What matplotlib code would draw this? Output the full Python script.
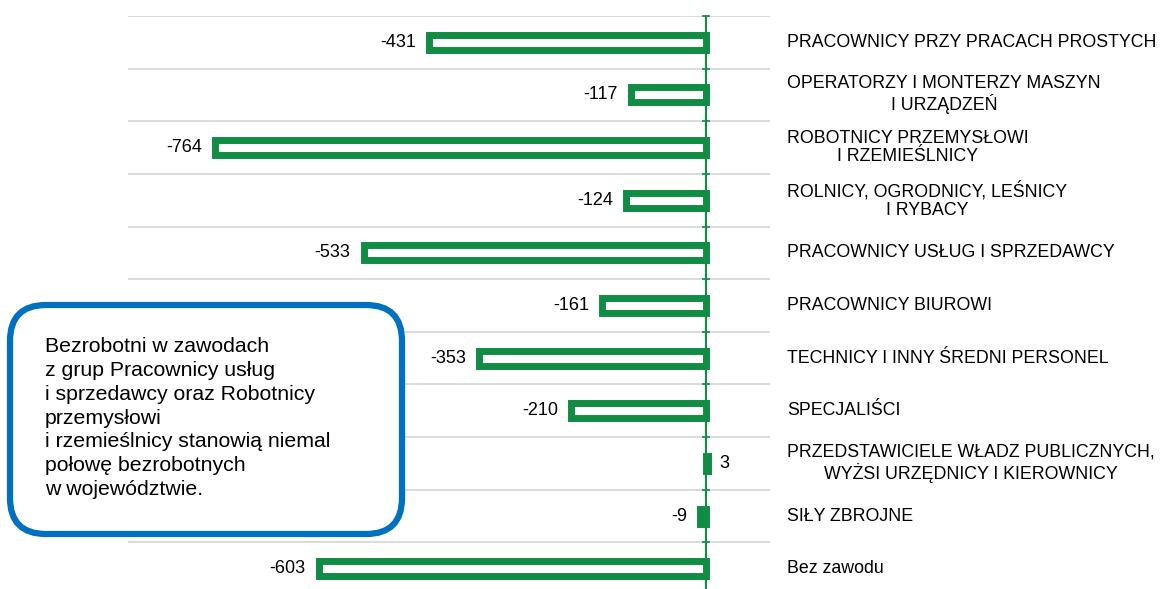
import matplotlib
matplotlib.use("Agg")
import matplotlib.pyplot as plt
import matplotlib.transforms as mtransforms
from matplotlib.patches import FancyBboxPatch

plt.rcParams['font.family'] = ['Liberation Sans', 'DejaVu Sans']

categories = [
    "PRACOWNICY PRZY PRACACH PROSTYCH",
    "OPERATORZY I MONTERZY MASZYN\nI URZĄDZEŃ",
    "ROBOTNICY PRZEMYSŁOWI\nI RZEMIEŚLNICY",
    "ROLNICY, OGRODNICY, LEŚNICY\nI RYBACY",
    "PRACOWNICY USŁUG I SPRZEDAWCY",
    "PRACOWNICY BIUROWI",
    "TECHNICY I INNY ŚREDNI PERSONEL",
    "SPECJALIŚCI",
    "PRZEDSTAWICIELE WŁADZ PUBLICZNYCH,\nWYŻSI URZĘDNICY I KIEROWNICY",
    "SIŁY ZBROJNE",
    "Bez zawodu",
]
values = [-431, -117, -764, -124, -533, -161, -353, -210, 3, -9, -603]

note = ("Bezrobotni w zawodach\nz grup Pracownicy usług\ni sprzedawcy oraz Robotnicy\n"
        "przemysłowi\ni rzemieślnicy stanowią niemal\npołowę bezrobotnych\nw województwie.")

GREEN = '#118C44'
BLUE = '#0070C0'

W, H = 1161, 589
DPI = 100
fig = plt.figure(figsize=(W / DPI, H / DPI), dpi=DPI)
ax_left, ax_right = 128 / W, 770 / W
ax_top, ax_bottom = 1 - 16 / H, 1 - 595 / H
ax = fig.add_axes([ax_left, ax_bottom, ax_right - ax_left, ax_top - ax_bottom])

n = len(categories)
ypos = list(range(n))
ax.barh(ypos, values, height=0.285, color='white', edgecolor=GREEN,
        linewidth=5.0, joinstyle='miter', zorder=3)

ax.set_xlim(-900, 100)
ax.set_ylim(n - 0.5, -0.5)

boundaries = [i - 0.5 for i in range(n + 1)]
ax.set_yticks(boundaries)
ax.set_yticklabels([])
ax.set_xticks([])
ax.grid(axis='y', color='#D9D9D9', linewidth=1.3, zorder=0)

for s in ['top', 'right', 'bottom']:
    ax.spines[s].set_visible(False)
ax.spines['left'].set_position(('data', 0))
ax.spines['left'].set_color(GREEN)
ax.spines['left'].set_linewidth(1.5)
ax.spines['left'].set_zorder(4)
ax.tick_params(axis='y', length=6, direction='inout', color=GREEN, width=1.2)

for i, v in enumerate(values):
    if v < 0:
        ax.annotate(str(v), (v, i), xytext=(-13, 0), textcoords='offset pixels',
                    ha='right', va='center', fontsize=13, color='black')
    else:
        ax.annotate(str(v), (v, i), xytext=(12, 0), textcoords='offset pixels',
                    ha='left', va='center', fontsize=13, color='black')

trans = mtransforms.blended_transform_factory(ax.transAxes, ax.transData)
for i, c in enumerate(categories):
    ax.text(1.0265, i, c, transform=trans, ha='left', va='center',
            multialignment='center', fontsize=12.8, color='black', linespacing=1.12)

# callout box (inches, isotropic)
bx0, by0, bx1, by1 = 10, 305, 402, 534
r = 36
box = FancyBboxPatch((bx0 / DPI, (H - by1) / DPI), (bx1 - bx0) / DPI, (by1 - by0) / DPI,
                     boxstyle="round,pad=0,rounding_size=%f" % (r / DPI),
                     transform=fig.dpi_scale_trans, facecolor='white', edgecolor=BLUE,
                     linewidth=4.5, zorder=10)
fig.add_artist(box)
fig.text(45 / W, 1 - 418 / H, note, ha='left', va='center', fontsize=15.3,
         color='black', linespacing=1.32, zorder=11)

fig.savefig('out.png', dpi=DPI)
